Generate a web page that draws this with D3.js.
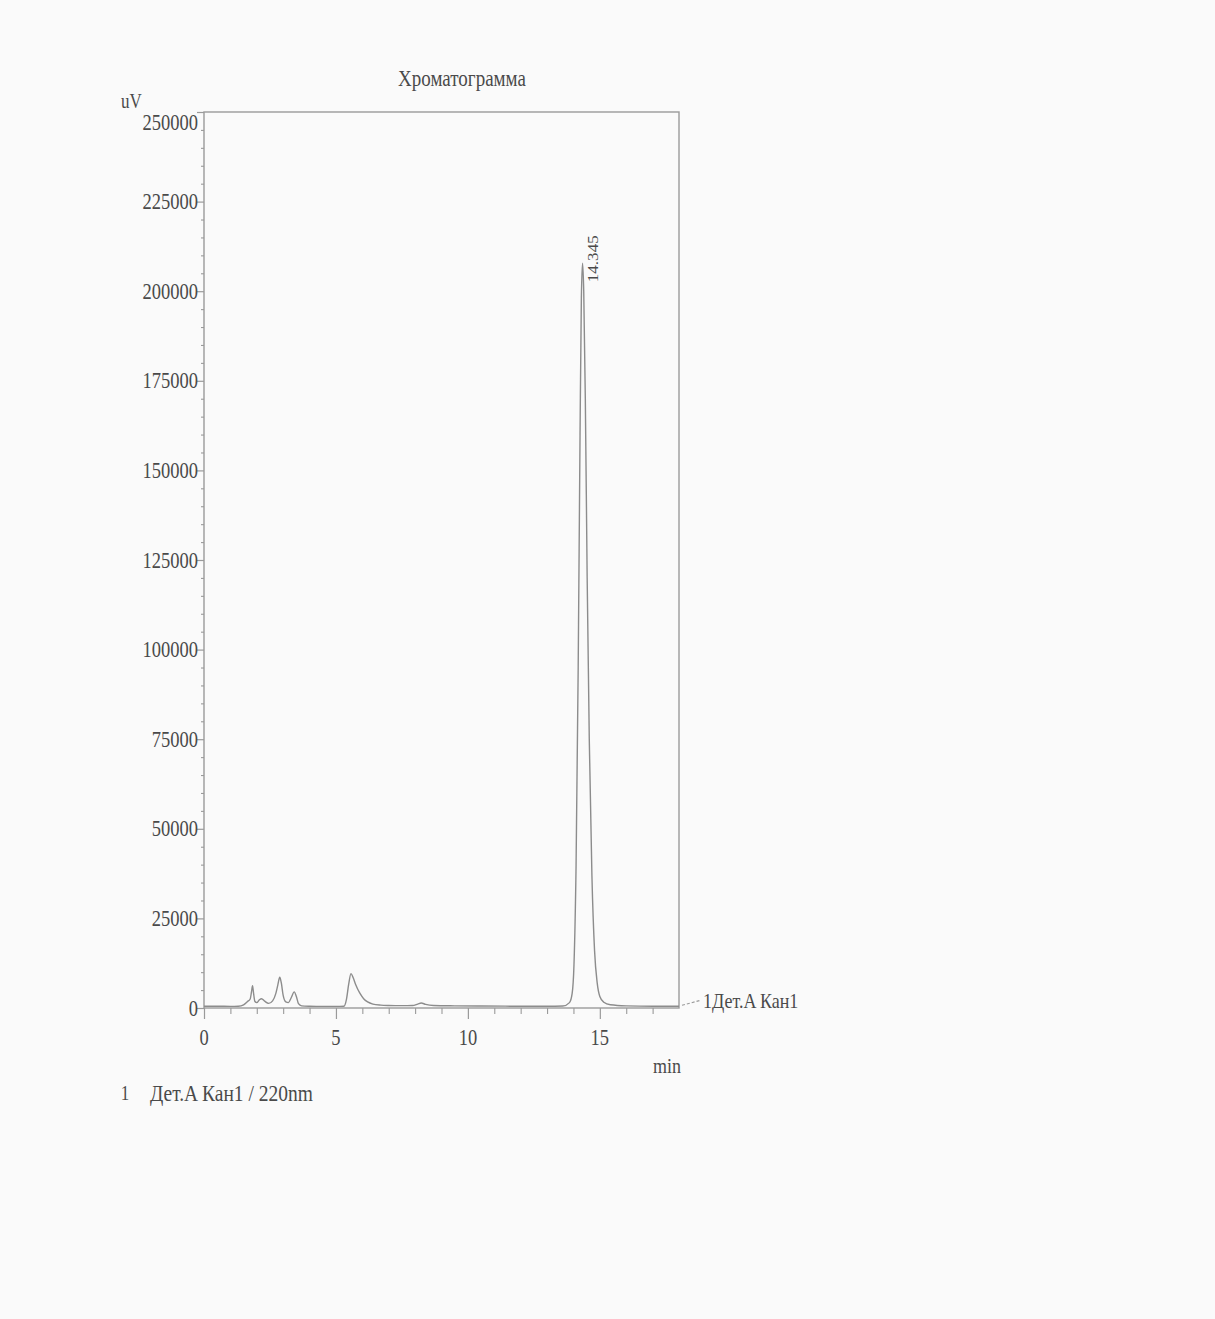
<!DOCTYPE html>
<html>
<head>
<meta charset="utf-8">
<script src="https://cdn.jsdelivr.net/npm/d3@7"></script>
<style>
  html, body { margin: 0; padding: 0; background: #fafafa; }
  svg { display: block; }
  text { font-family: "Liberation Serif", "DejaVu Serif", serif; fill: #4a4a4a; }
</style>
</head>
<body>
<svg id="chart" width="1215" height="1319"></svg>
<script>
// Detector trace: retention time (min) and signal (uV)
const times = [0.0, 0.5, 1.0, 1.3, 1.5, 1.65, 1.75, 1.8, 1.84, 1.88, 1.93, 2.0, 2.1, 2.18, 2.3, 2.45,
  2.6, 2.72, 2.8, 2.87, 2.93, 3.0, 3.1, 3.2, 3.3, 3.42, 3.5, 3.58, 3.7, 4.0, 4.5, 5.0, 5.3, 5.4,
  5.48, 5.57, 5.65, 5.75, 5.9, 6.05, 6.2, 6.4, 6.7, 7.0, 7.5, 7.9, 8.1, 8.23, 8.4, 8.7, 9.5, 10.5,
  12.0, 13.0, 13.6, 13.85, 13.95, 14.02, 14.1, 14.18, 14.25, 14.3, 14.345, 14.39, 14.45, 14.52,
  14.6, 14.7, 14.8, 14.9, 15.0, 15.15, 15.4, 16.0, 17.0, 18.0];
const signal = [500, 500, 450, 500, 900, 1800, 2500, 4500, 6200, 4000, 1800, 1500, 2300, 2600, 1900, 1300,
  2000, 4000, 6500, 8600, 7000, 3500, 1700, 1500, 2800, 4500, 3200, 1200, 600, 500, 450, 450, 500, 2500,
  6500, 9600, 8500, 6500, 4200, 2600, 1700, 1100, 800, 700, 650, 700, 1100, 1400, 1000, 700, 600, 550,
  500, 500, 550, 1500, 4000, 12000, 40000, 95000, 160000, 198000, 207800, 200000, 170000, 120000,
  75000, 37000, 16000, 7000, 3200, 1600, 900, 600, 500, 500];

// Labelled peak
const peakTime = 14.345;
const peakHeight = 207800;
const peakLabel = "14.345";

// Axis ticks
const yMajorTicks = [0, 25000, 50000, 75000, 100000, 125000, 150000, 175000, 200000, 225000, 250000];
const yMinorStep = 5000;
const xMajorTicks = [0, 5, 10, 15];
const xMinorTicks = [1, 2, 3, 4, 6, 7, 8, 9, 11, 12, 13, 14, 16, 17];

// Texts
const titleText = "Хроматограмма";
const yUnit = "uV";
const xUnit = "min";
const traceName = "1Дет.A Кан1";
const legendIndex = "1";
const legendText = "Дет.A Кан1 / 220nm";

const svg = d3.select("#chart");
const margin = { left: 204, right: 1215 - 679, top: 112, bottom: 1319 - 1008 };
const W = 1215 - margin.left - margin.right;
const H = 1319 - margin.top - margin.bottom;

const x = d3.scaleLinear().domain([0, 18]).range([margin.left, margin.left + W]);
const y = d3.scaleLinear().domain([0, 250000]).range([margin.top + H, margin.top]);

const axisColor = "#9a9a9a";
const textScaleY = 1.22;

// Text drawn slightly tall and narrow, as the printer font is
function label(xp, yp, str, size, anchor, rotate) {
  return svg.append("text")
    .attr("transform", `translate(${xp},${yp}) scale(1,${textScaleY})${rotate ? ` rotate(${rotate})` : ""}`)
    .attr("font-size", size)
    .attr("text-anchor", anchor || "start")
    .attr("dominant-baseline", "central")
    .text(str);
}

// Frame
svg.append("rect")
  .attr("x", margin.left).attr("y", margin.top)
  .attr("width", W).attr("height", H)
  .attr("fill", "none").attr("stroke", axisColor).attr("stroke-width", 1.4);

// Y axis: major ticks with labels, minor ticks
const yAxis = d3.axisLeft(y).tickValues(yMajorTicks).tickSize(7).tickFormat("");
const gy = svg.append("g").attr("transform", `translate(${margin.left},0)`).call(yAxis);
gy.select(".domain").remove();
gy.selectAll("line").attr("stroke", axisColor).attr("stroke-width", 1.2);

const yMinor = d3.range(0, 250001, yMinorStep).filter(v => !yMajorTicks.includes(v));
const gym = svg.append("g").attr("transform", `translate(${margin.left},0)`)
  .call(d3.axisLeft(y).tickValues(yMinor).tickSize(3).tickFormat(""));
gym.select(".domain").remove();
gym.selectAll("line").attr("stroke", axisColor).attr("stroke-width", 1.1);

yMajorTicks.forEach(v => {
  const yy = v === 250000 ? y(v) + 10 : y(v);
  label(margin.left - 6, yy, String(v), 18.5, "end");
});

// X axis: major and minor ticks
const gx = svg.append("g").attr("transform", `translate(0,${margin.top + H})`)
  .call(d3.axisBottom(x).tickValues(xMajorTicks).tickSize(11).tickFormat(""));
gx.select(".domain").remove();
gx.selectAll("line").attr("stroke", axisColor).attr("stroke-width", 1.2);
const gxm = svg.append("g").attr("transform", `translate(0,${margin.top + H})`)
  .call(d3.axisBottom(x).tickValues(xMinorTicks).tickSize(6).tickFormat(""));
gxm.select(".domain").remove();
gxm.selectAll("line").attr("stroke", axisColor).attr("stroke-width", 1.1);

xMajorTicks.forEach(v => label(x(v), margin.top + H + 29, String(v), 18.5, "middle"));

// Trace
const pts = times.map((t, i) => [t, signal[i]]);
const line = d3.line().x(d => x(d[0])).y(d => y(d[1])).curve(d3.curveMonotoneX);
svg.append("path")
  .datum(pts)
  .attr("d", line)
  .attr("fill", "none")
  .attr("stroke", "#8c8c8c")
  .attr("stroke-width", 1.4)
  .attr("stroke-linejoin", "round");

// Peak retention time label, rotated
label(x(peakTime) + 11, y(peakHeight) + 19, peakLabel, 14, "start", -90);

// Titles and units
label(462, 78, titleText, 19, "middle");
label(121, 101, yUnit, 17, "start");
label(667, 1065, xUnit, 18, "middle");

// Trace name with dashed leader
svg.append("line")
  .attr("x1", x(18) + 3).attr("y1", y(signal[signal.length - 1]) - 1)
  .attr("x2", x(18) + 22).attr("y2", y(signal[signal.length - 1]) - 6)
  .attr("stroke", axisColor).attr("stroke-width", 1.1).attr("stroke-dasharray", "3,2");
label(703, 1000, traceName, 18, "start");

// Legend
label(125, 1093, legendIndex, 17, "middle");
label(150, 1093, legendText, 19.5, "start");
</script>
</body>
</html>
